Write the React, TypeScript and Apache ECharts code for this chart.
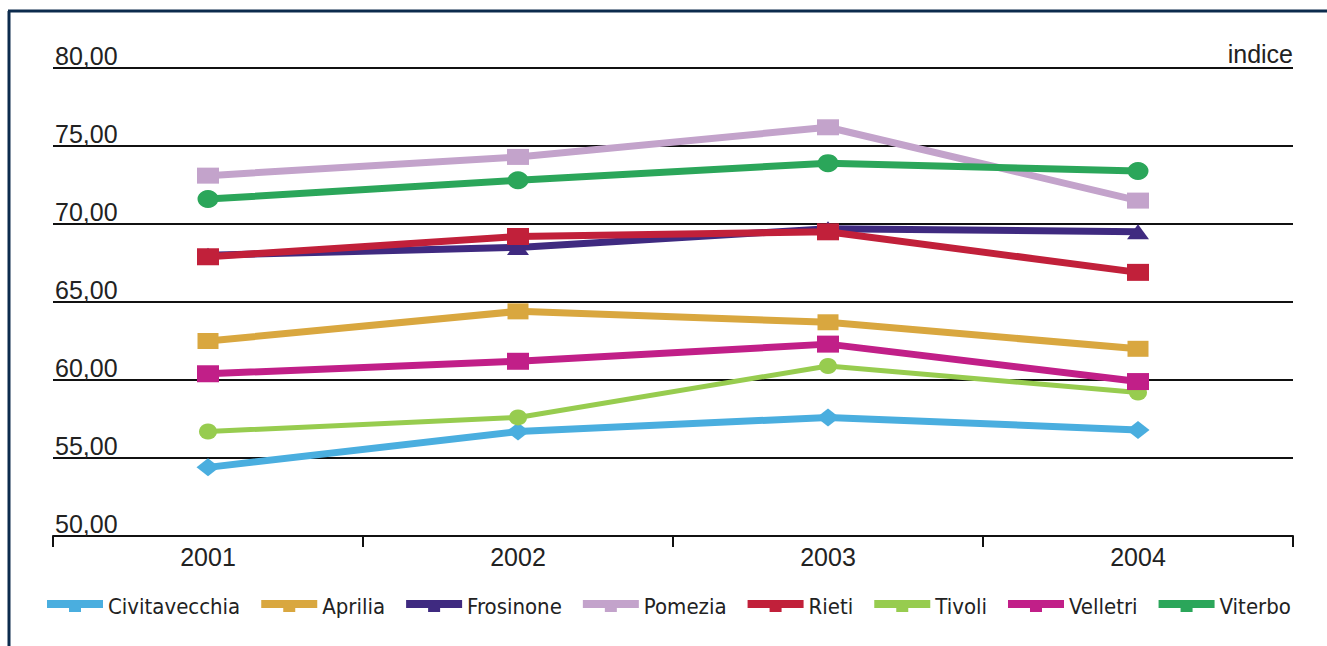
import React, { useEffect, useRef } from "react";
import * as echarts from "echarts";

const years = ["2001", "2002", "2003", "2004"];
const civitavecchia = [54.4, 56.7, 57.6, 56.8];
const aprilia = [62.5, 64.4, 63.7, 62.0];
const frosinone = [68.0, 68.5, 69.7, 69.5];
const pomezia = [73.1, 74.3, 76.2, 71.5];
const rieti = [67.9, 69.2, 69.5, 66.9];
const tivoli = [56.7, 57.6, 60.9, 59.2];
const velletri = [60.4, 61.2, 62.3, 59.9];
const viterbo = [71.6, 72.8, 73.9, 73.4];

const seriesDefs = [
  { name: "Civitavecchia", data: civitavecchia, color: "#4aaedf", symbol: "diamond", size: [23, 18], width: 7 },
  { name: "Aprilia", data: aprilia, color: "#d9a73f", symbol: "rect", size: [21, 16], width: 7 },
  { name: "Frosinone", data: frosinone, color: "#3f2a80", symbol: "triangle", size: [22, 15], width: 7 },
  { name: "Pomezia", data: pomezia, color: "#c3a3cb", symbol: "rect", size: [22, 16], width: 7 },
  { name: "Rieti", data: rieti, color: "#c1203a", symbol: "rect", size: [22, 17], width: 7 },
  { name: "Tivoli", data: tivoli, color: "#97cc4f", symbol: "circle", size: [18, 16], width: 5 },
  { name: "Velletri", data: velletri, color: "#c11f88", symbol: "rect", size: [22, 17], width: 7 },
  { name: "Viterbo", data: viterbo, color: "#2ba65a", symbol: "circle", size: [21, 18], width: 7 },
];

const legendIcon = "path://M0,0H56V8H34V12H22V8H0Z";

export default function App() {
  const ref = useRef<HTMLDivElement>(null);
  useEffect(() => {
    document.body.style.margin = "0";
    if (!ref.current) return;
    const chart = echarts.init(ref.current, undefined, { renderer: "svg" });
    chart.setOption({
      animation: false,
      backgroundColor: "#ffffff",
      title: {
        text: "indice",
        right: 29,
        top: 36,
        textStyle: { fontFamily: "'Liberation Sans', Arial, sans-serif", fontSize: 25, fontWeight: "normal", color: "#222" },
      },
      grid: { left: 53, right: 34, top: 68, bottom: 110 },
      legend: {
        left: 42,
        top: 590,
        icon: legendIcon,
        itemWidth: 56,
        itemHeight: 12,
        itemGap: 21,
        textStyle: { fontFamily: "'Liberation Sans Narrow', 'DejaVu Sans Condensed', Arial, sans-serif", fontSize: 22, color: "#222" },
        data: seriesDefs.map((s) => s.name),
      },
      xAxis: {
        type: "category",
        data: years,
        boundaryGap: true,
        axisLine: { lineStyle: { color: "#111", width: 2 } },
        axisTick: { show: true, length: 11, lineStyle: { color: "#111", width: 2 } },
        axisLabel: { margin: 8, fontFamily: "'Liberation Sans', Arial, sans-serif", fontSize: 25, color: "#222" },
      },
      yAxis: {
        type: "value",
        min: 50,
        max: 80,
        interval: 5,
        axisLine: { show: false },
        axisTick: { show: false },
        splitLine: { lineStyle: { color: "#111", width: 2 } },
        axisLabel: {
          inside: true,
          margin: 2,
          align: "left",
          verticalAlign: "bottom",
          lineHeight: 24,
          fontFamily: "'Liberation Sans', Arial, sans-serif",
          fontSize: 25,
          color: "#222",
          formatter: (v: number) => v.toFixed(2).replace(".", ","),
        },
      },
      graphic: [
        { type: "line", shape: { x1: 9, y1: 11, x2: 9, y2: 646 }, style: { stroke: "#0c2b4d", lineWidth: 3 } },
        { type: "line", shape: { x1: 8, y1: 11, x2: 1327, y2: 11 }, style: { stroke: "#0c2b4d", lineWidth: 3 } },
      ],
      series: seriesDefs.map((s) => ({
        name: s.name,
        type: "line",
        data: s.data,
        symbol: s.symbol,
        symbolSize: s.size,
        showSymbol: true,
        lineStyle: { color: s.color, width: s.width },
        itemStyle: { color: s.color, borderWidth: 0 },
        emphasis: { disabled: true },
      })),
    });
    return () => chart.dispose();
  }, []);
  return <div ref={ref} style={{ width: 1327, height: 646 }} />;
}
